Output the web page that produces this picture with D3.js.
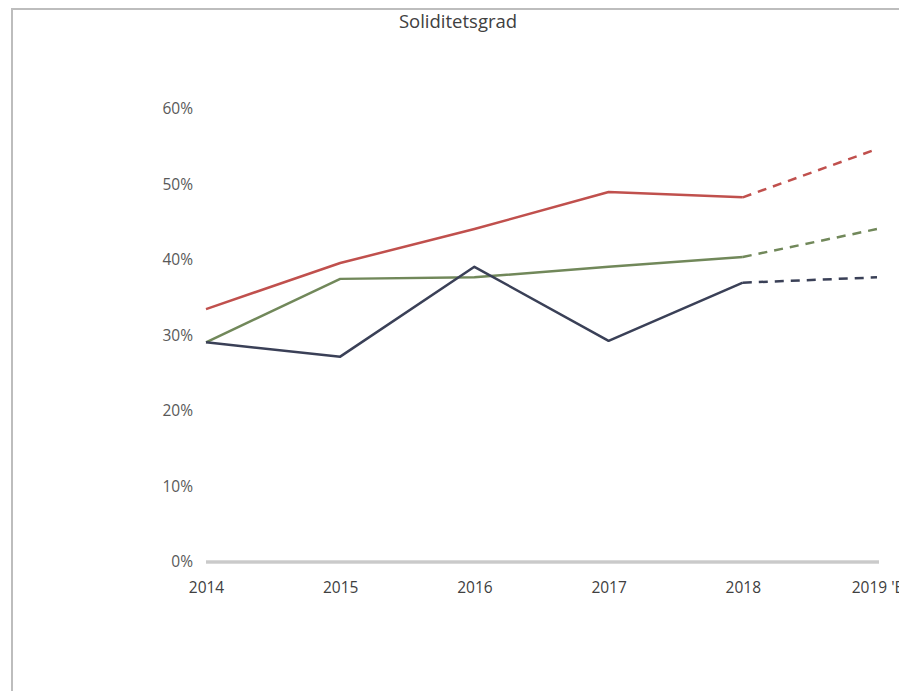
<!DOCTYPE html>
<html>
<head>
<meta charset="utf-8">
<script src="https://cdn.jsdelivr.net/npm/d3@7"></script>
<style>
  html, body { margin: 0; padding: 0; background: #fff; }
  svg { display: block; }
</style>
</head>
<body>
<svg id="chart" width="899" height="691"></svg>
<script>
// Equity ratio by year; the last year is a forecast (drawn dashed)
const years = ["2014", "2015", "2016", "2017", "2018", "2019 'E"];
const seriesRed   = [0.335, 0.396, 0.441, 0.490, 0.483, 0.547];
const seriesGreen = [0.291, 0.375, 0.377, 0.391, 0.404, 0.441];
const seriesNavy  = [0.291, 0.272, 0.391, 0.293, 0.370, 0.377];
const yTicks = [0, 0.1, 0.2, 0.3, 0.4, 0.5, 0.6];
const title = "Soliditetsgrad";

const series = [
  { name: "red",   values: seriesRed,   color: "#c0504d" },
  { name: "green", values: seriesGreen, color: "#71885a" },
  { name: "navy",  values: seriesNavy,  color: "#3a4057" }
];

const svg = d3.select("#chart");
const font = "'Open Sans', 'Liberation Sans', Arial, sans-serif";

// outer frame (top and left edges)
svg.append("path")
  .attr("d", "M12,691 V9 H899")
  .attr("fill", "none")
  .attr("stroke", "#bdbdbd")
  .attr("stroke-width", 2);

const x = d3.scalePoint().domain(years).range([206, 877]);
const y = d3.scaleLinear().domain([0, 0.6]).range([562, 109]);

svg.append("text")
  .attr("x", 458).attr("y", 28)
  .attr("text-anchor", "middle")
  .attr("font-family", font)
  .attr("font-size", 18.5)
  .attr("fill", "#404040")
  .text(title);

// y axis labels (no axis line)
const yAxis = d3.axisLeft(y).tickValues(yTicks).tickFormat(d3.format(".0%")).tickSize(0).tickPadding(0);
const gy = svg.append("g").attr("transform", "translate(193,0)").call(yAxis);
gy.select(".domain").remove();
gy.selectAll("text")
  .attr("font-family", font).attr("font-size", 15.5).attr("fill", "#595959");

// baseline
svg.append("line")
  .attr("x1", 206).attr("x2", 879)
  .attr("y1", y(0)).attr("y2", y(0))
  .attr("stroke", "#b4b4b4").attr("stroke-width", 3);
svg.append("line")
  .attr("x1", 206).attr("x2", 879)
  .attr("y1", y(0)).attr("y2", y(0))
  .attr("stroke", "#e0e0e0").attr("stroke-width", 1);

// x axis labels
const xAxis = d3.axisBottom(x).tickSize(0).tickPadding(0);
const gx = svg.append("g").attr("transform", "translate(0,582)").call(xAxis);
gx.select(".domain").remove();
gx.selectAll("text")
  .attr("font-family", font).attr("font-size", 15.5).attr("fill", "#404040");

// lines: solid for actuals, dashed for forecast segment
const line = d3.line().x(d => x(d.year)).y(d => y(d.value));
const last = years.length - 1;

series.forEach(s => {
  const pts = s.values.map((v, i) => ({ year: years[i], value: v }));
  svg.append("path")
    .datum(pts.slice(0, last))
    .attr("d", line)
    .attr("fill", "none")
    .attr("stroke", s.color)
    .attr("stroke-width", 2.5)
    .attr("stroke-linejoin", "round");
  svg.append("path")
    .datum(pts.slice(last - 1))
    .attr("d", line)
    .attr("fill", "none")
    .attr("stroke", s.color)
    .attr("stroke-width", 2.5)
    .attr("stroke-dasharray", "9,7");
});
</script>
</body>
</html>
